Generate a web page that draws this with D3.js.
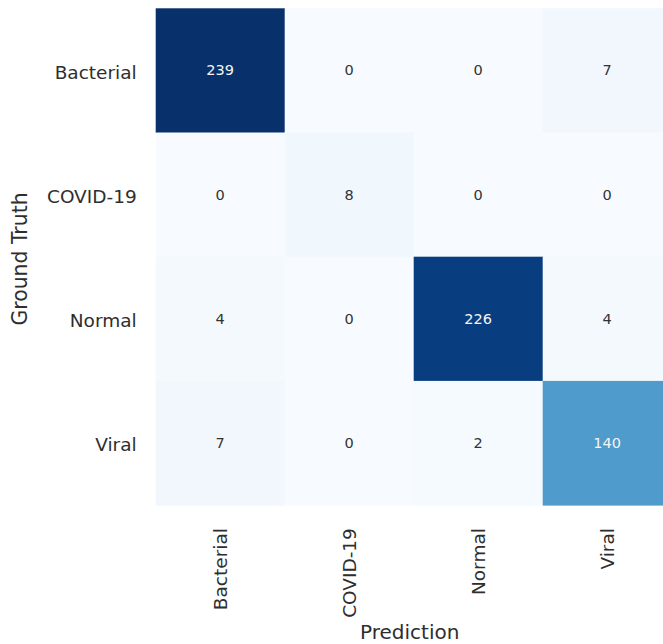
<!DOCTYPE html>
<html>
<head>
<meta charset="utf-8">
<script src="https://cdn.jsdelivr.net/npm/d3@7"></script>
<style>
  html, body { margin: 0; padding: 0; background: #fff; }
  svg { display: block; }
</style>
</head>
<body>
<svg id="chart" width="663" height="644"></svg>
<script>
const truthLabels = ["Bacterial", "COVID-19", "Normal", "Viral"];
const predLabels = ["Bacterial", "COVID-19", "Normal", "Viral"];
const matrix = [
  [239, 0, 0, 7],
  [0, 8, 0, 0],
  [4, 0, 226, 4],
  [7, 0, 2, 140]
];
const blueStops = ["#f7fbff","#deebf7","#c6dbef","#9ecae1","#6baed6","#4292c6","#2171b5","#08519c","#08306b"];
const xTitle = "Prediction";
const yTitle = "Ground Truth";

const svg = d3.select("#chart");
const gridLeft = 155.7, gridTop = 8.3, cellW = 129, cellH = 124.2;
const n = predLabels.length;

const x = d3.scaleBand().domain(predLabels).range([gridLeft, gridLeft + cellW * n]).padding(0);
const y = d3.scaleBand().domain(truthLabels).range([gridTop, gridTop + cellH * n]).padding(0);

const vmax = d3.max(matrix.flat());
const vmin = d3.min(matrix.flat());
const color = d3.scaleLinear()
  .domain(blueStops.map((_, i) => vmin + (vmax - vmin) * i / (blueStops.length - 1)))
  .range(blueStops)
  .interpolate(d3.interpolateRgb);

const cells = [];
matrix.forEach((row, i) => row.forEach((v, j) => cells.push({ r: truthLabels[i], c: predLabels[j], v })));

function lum(c) {
  const rgb = d3.rgb(c);
  const f = u => { u /= 255; return u <= 0.03928 ? u / 12.92 : Math.pow((u + 0.055) / 1.055, 2.4); };
  return 0.2126 * f(rgb.r) + 0.7152 * f(rgb.g) + 0.0722 * f(rgb.b);
}

svg.append("g").selectAll("rect").data(cells).join("rect")
  .attr("x", d => x(d.c))
  .attr("y", d => y(d.r))
  .attr("width", x.bandwidth() + 0.5)
  .attr("height", y.bandwidth() + 0.5)
  .attr("fill", d => color(d.v));

svg.append("g").selectAll("text").data(cells).join("text")
  .attr("x", d => x(d.c) + x.bandwidth() / 2)
  .attr("y", d => y(d.r) + y.bandwidth() / 2)
  .attr("text-anchor", "middle")
  .attr("dominant-baseline", "central")
  .attr("font-family", "DejaVu Sans")
  .attr("font-size", 14.5)
  .attr("fill", d => lum(color(d.v)) < 0.408 ? "#f4f4f4" : "#333333")
  .text(d => d.v);

// Y axis (Ground Truth)
const yAxis = d3.axisLeft(y).tickSize(0).tickPadding(19);
const yg = svg.append("g").attr("transform", `translate(${gridLeft},0)`).call(yAxis);
yg.select(".domain").remove();
yg.selectAll("text")
  .attr("font-family", "DejaVu Sans")
  .attr("font-size", 18.5)
  .attr("fill", "#2e2e2e")
  .attr("dy", "0.45em");

// X axis (Prediction)
const xAxis = d3.axisBottom(x).tickSize(0).tickPadding(0);
const xg = svg.append("g").attr("transform", `translate(0,${gridTop + cellH * n})`).call(xAxis);
xg.select(".domain").remove();
xg.selectAll("text")
  .attr("font-family", "DejaVu Sans")
  .attr("font-size", 18.5)
  .attr("fill", "#2e2e2e")
  .attr("text-anchor", "end")
  .attr("dy", null)
  .attr("y", 0)
  .attr("dominant-baseline", "central")
  .attr("transform", "translate(0,23) rotate(-90)");

svg.append("text")
  .attr("x", gridLeft + cellW * n / 2 - 4)
  .attr("y", 639)
  .attr("text-anchor", "middle")
  .attr("font-family", "DejaVu Sans")
  .attr("font-size", 20)
  .attr("fill", "#2e2e2e")
  .text(xTitle);

svg.append("text")
  .attr("transform", `translate(27,259) rotate(-90)`)
  .attr("text-anchor", "middle")
  .attr("font-family", "DejaVu Sans")
  .attr("font-size", 20.4)
  .attr("fill", "#2e2e2e")
  .text(yTitle);
</script>
</body>
</html>
